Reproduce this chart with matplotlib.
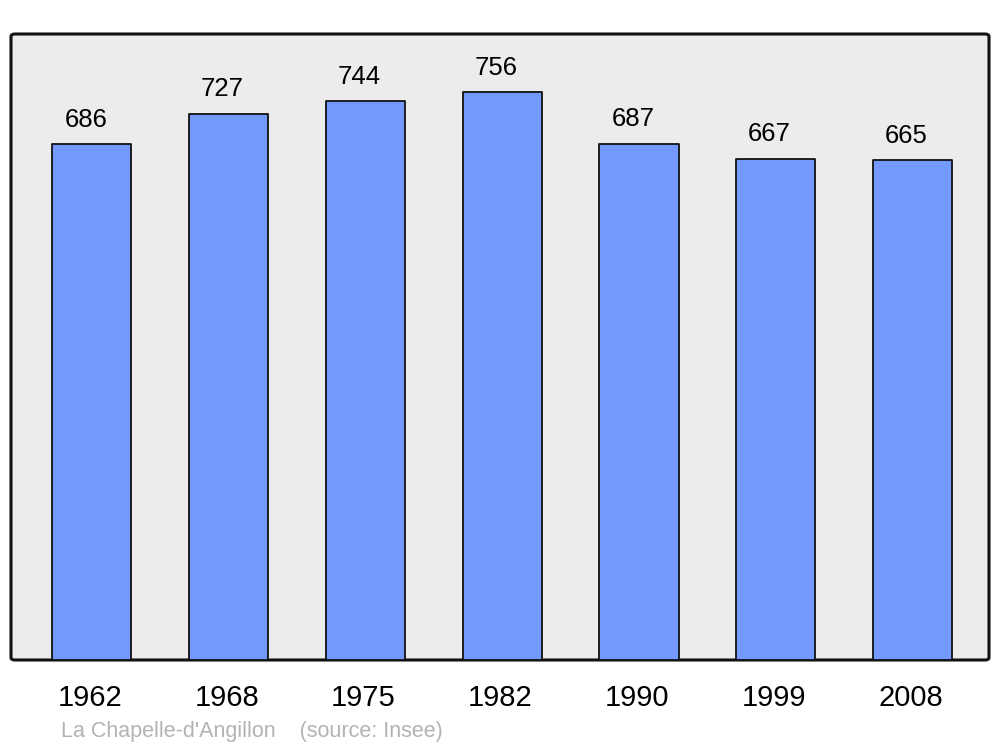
import matplotlib
matplotlib.use("Agg")
import matplotlib.pyplot as plt
from matplotlib.patches import FancyBboxPatch
from matplotlib.transforms import ScaledTranslation

years = ["1962", "1968", "1975", "1982", "1990", "1999", "2008"]
population = [686, 727, 744, 756, 687, 667, 665]
caption = "La Chapelle-d'Angillon    (source: Insee)"

plt.rcParams['font.family'] = ['Liberation Sans', 'DejaVu Sans']

fig = plt.figure(figsize=(10, 7.47), dpi=100)
ax = fig.add_axes([11/1000, 1 - 660/747, 978/1000, 626/747])
ax.set_facecolor('none')

# rounded background frame
frame = FancyBboxPatch((0, 0), 1, 1, boxstyle="round,pad=0,rounding_size=0.004",
                       transform=ax.transAxes, facecolor='#ececec', edgecolor='#111111',
                       linewidth=2.2, zorder=0, clip_on=False)
ax.add_patch(frame)

x = list(range(len(years)))
bars = ax.bar(x, population, width=0.578, color='#7399ff', edgecolor='#111111',
              linewidth=1.3, zorder=2, joinstyle='round')

for xi, v in zip(x, population):
    ax.annotate(str(v), (xi, v), xytext=(-4.5, 12.5), textcoords='offset points',
                ha='center', va='baseline', fontsize=18.5, color='black')

ax.set_xlim(-0.592, 6.559)
ax.set_ylim(0, 833)
ax.set_xticks(x)
ax.set_xticklabels(years, fontsize=21)
ax.tick_params(axis='x', length=0, pad=17)
shift = ScaledTranslation(-2/100, 0, fig.dpi_scale_trans)
for lbl in ax.get_xticklabels():
    lbl.set_transform(lbl.get_transform() + shift)
ax.set_yticks([])
for s in ax.spines.values():
    s.set_visible(False)

fig.text(61/1000, 1 - 732/747, caption, fontsize=15.5, color='#b3b3b3', va='center', ha='left')

fig.savefig("out.png", dpi=100)
